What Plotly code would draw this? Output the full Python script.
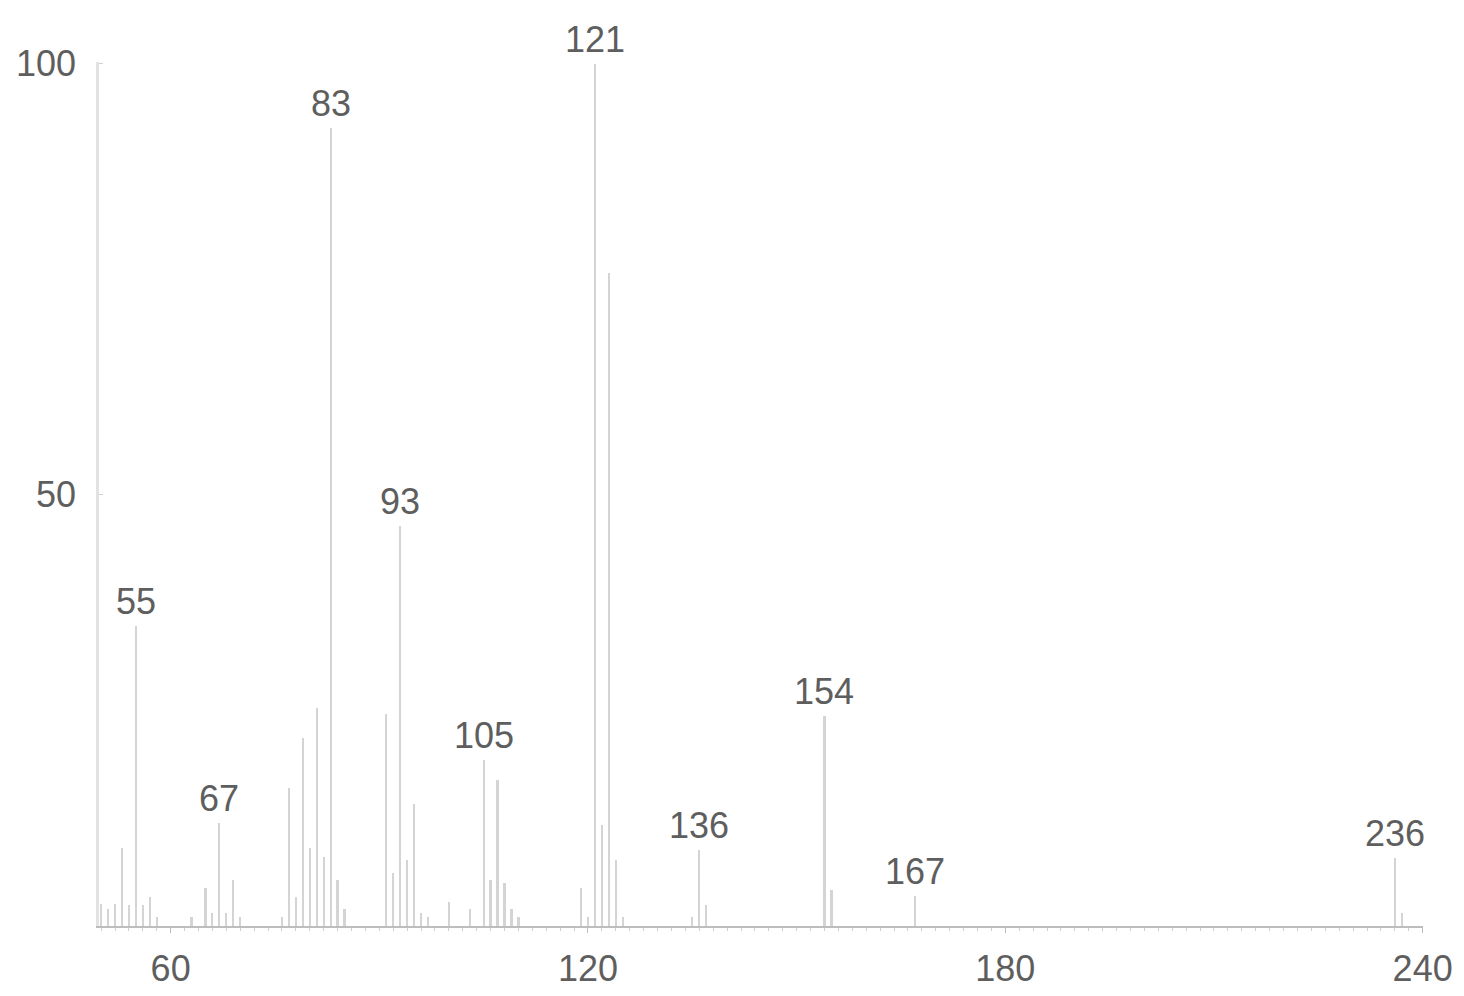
import plotly.graph_objects as go

# m/z values and relative intensities
mz = [50, 51, 52, 53, 54, 55, 56, 57, 58, 63, 65, 66, 67, 68, 69, 70,
      76, 77, 78, 79, 80, 81, 82, 83, 84, 85, 91, 92, 93, 94, 95, 96, 97,
      100, 103, 105, 106, 107, 108, 109, 110, 119, 120, 121, 122, 123, 124,
      125, 135, 136, 137, 154, 155, 167, 236, 237]
intensity = [2.5, 2.0, 2.5, 9.0, 2.4, 34.8, 2.4, 3.4, 1.0, 1.0, 4.4, 1.5, 12.0, 1.5, 5.3, 1.0,
             1.0, 16.0, 3.4, 21.8, 9.0, 25.3, 8.0, 92.5, 5.3, 2.0, 24.6, 6.2, 46.4, 7.6, 14.2, 1.5, 1.0,
             2.8, 2.0, 19.2, 5.3, 16.9, 5.0, 2.0, 1.0, 4.4, 1.0, 100.0, 11.7, 75.7, 7.6,
             1.0, 1.0, 8.8, 2.4, 24.4, 4.2, 3.5, 7.9, 1.5]
labeled_peaks = [55, 67, 83, 93, 105, 121, 136, 154, 167, 236]
x_ticks = [60, 120, 180, 240]
y_ticks = [50, 100]

FONT = "Liberation Sans, Arial, sans-serif"
TXT = "#5e5e5e"

fig = go.Figure()
fig.add_trace(go.Bar(x=mz, y=intensity, width=0.32,
                     marker=dict(color="#d4d4d4", line=dict(width=0)),
                     hoverinfo="x+y"))

lookup = dict(zip(mz, intensity))
for p in labeled_peaks:
    fig.add_annotation(x=p, y=lookup[p], text=str(p), showarrow=False,
                       yanchor="bottom", xanchor="center", yshift=3, borderpad=0,
                       font=dict(family=FONT, size=36, color=TXT))

fig.update_layout(
    width=1464, height=996,
    margin=dict(l=99, r=41, t=62, b=70, autoexpand=False),
    plot_bgcolor="white", paper_bgcolor="white",
    showlegend=False, bargap=0,
    font=dict(family=FONT, size=36, color=TXT),
)
fig.update_xaxes(range=[49.7, 240.05], tickvals=x_ticks, showgrid=False, zeroline=False,
                 showline=True, linecolor="#bdbdbd", linewidth=1.5, automargin=False,
                 ticks="outside", ticklen=5, tickcolor="#bdbdbd", tickwidth=1,
                 ticklabelstandoff=5,
                 minor=dict(dtick=2, ticks="outside", ticklen=3, tickcolor="#cfcfcf", tickwidth=1),
                 tickfont=dict(family=FONT, size=36, color=TXT))
fig.update_yaxes(range=[0, 100.2], tickvals=y_ticks, showgrid=False, zeroline=False,
                 showline=True, linecolor="#e2e2e2", linewidth=2.5, automargin=False,
                 ticks="inside", ticklen=4, tickcolor="#d0d0d0",
                 ticklabelstandoff=13,
                 tickfont=dict(family=FONT, size=36, color=TXT))

fig.write_html("out.html", config={"displayModeBar": False},
               post_script="document.body.style.margin='0';document.body.style.padding='0';")
